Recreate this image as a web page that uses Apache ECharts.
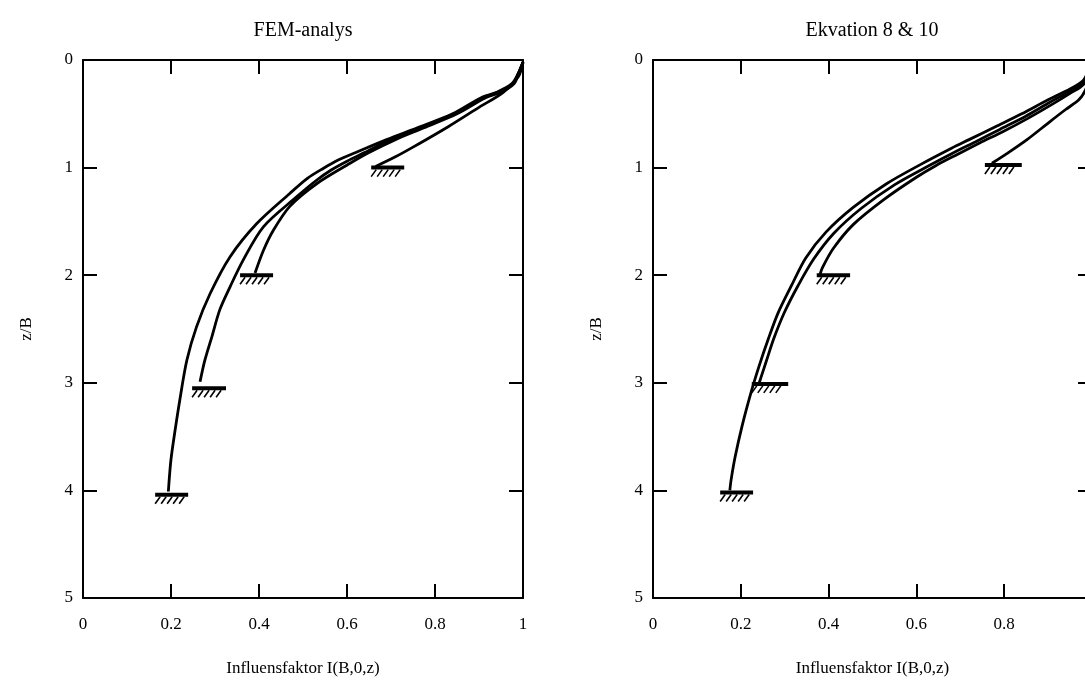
<!DOCTYPE html>
<html>
<head>
<meta charset="utf-8">
<script src="https://cdn.jsdelivr.net/npm/echarts@6/dist/echarts.min.js"></script>
<style>
  html, body { margin: 0; padding: 0; background: #fff; }
  #chart { width: 1085px; height: 693px; }
</style>
</head>
<body>
<div id="chart"></div>
<script>
// x = Influensfaktor I(B,0,z), y = z/B  — pairs are [x, z]
const xTicks = [0, 0.2, 0.4, 0.6, 0.8, 1]
const zTicks = [0, 1, 2, 3, 4, 5]

// FEM-analys
const fem1 = [[1.0, 0.02], [0.99, 0.15], [0.955, 0.30], [0.90, 0.44], [0.83, 0.62], [0.75, 0.81], [0.71, 0.90], [0.665, 0.99]]
const fem2 = [[1.0, 0.02], [0.99, 0.12], [0.98, 0.22], [0.95, 0.30], [0.915, 0.35], [0.85, 0.50], [0.775, 0.63], [0.71, 0.74], [0.65, 0.86], [0.607, 0.96], [0.531, 1.15], [0.47, 1.36], [0.433, 1.58], [0.41, 1.77], [0.391, 1.98]]
const fem3 = [[1.0, 0.02], [0.99, 0.12], [0.977, 0.22], [0.945, 0.30], [0.91, 0.35], [0.845, 0.50], [0.765, 0.63], [0.70, 0.74], [0.64, 0.86], [0.60, 0.94], [0.565, 1.02], [0.53, 1.12], [0.486, 1.27], [0.41, 1.55], [0.364, 1.86], [0.334, 2.11], [0.311, 2.32], [0.293, 2.57], [0.277, 2.79], [0.266, 2.99]]
const fem4 = [[1.0, 0.02], [0.99, 0.12], [0.975, 0.22], [0.94, 0.30], [0.905, 0.35], [0.84, 0.50], [0.76, 0.63], [0.69, 0.74], [0.62, 0.86], [0.58, 0.93], [0.545, 1.01], [0.51, 1.10], [0.47, 1.24], [0.395, 1.52], [0.334, 1.83], [0.289, 2.17], [0.258, 2.48], [0.236, 2.79], [0.22, 3.16], [0.205, 3.56], [0.199, 3.75], [0.194, 4.01]]
// supports: [xStart, xEnd, z]
const femSupports = [[0.655, 0.73, 1.0], [0.357, 0.432, 2.0], [0.248, 0.325, 3.05], [0.164, 0.239, 4.04]]

// Ekvation 8 & 10
const eq1 = [[1.0, 0.03], [0.995, 0.15], [0.985, 0.28], [0.97, 0.37], [0.94, 0.46], [0.905, 0.57], [0.852, 0.74], [0.806, 0.87], [0.772, 0.96]]
const eq2 = [[1.0, 0.03], [0.99, 0.14], [0.98, 0.23], [0.95, 0.31], [0.91, 0.41], [0.855, 0.54], [0.80, 0.66], [0.745, 0.77], [0.692, 0.88], [0.645, 0.98], [0.60, 1.09], [0.525, 1.30], [0.456, 1.53], [0.411, 1.75], [0.386, 1.93], [0.380, 2.0]]
const eq3 = [[1.0, 0.03], [0.99, 0.13], [0.98, 0.21], [0.95, 0.29], [0.905, 0.39], [0.85, 0.52], [0.79, 0.645], [0.735, 0.76], [0.69, 0.85], [0.625, 0.99], [0.55, 1.16], [0.474, 1.38], [0.412, 1.61], [0.366, 1.85], [0.33, 2.10], [0.30, 2.34], [0.276, 2.58], [0.258, 2.80], [0.246, 2.95], [0.242, 3.0]]
const eq4 = [[1.0, 0.03], [0.99, 0.12], [0.98, 0.19], [0.95, 0.27], [0.90, 0.37], [0.84, 0.50], [0.78, 0.62], [0.72, 0.74], [0.68, 0.82], [0.61, 0.97], [0.532, 1.15], [0.456, 1.37], [0.394, 1.60], [0.348, 1.84], [0.315, 2.10], [0.285, 2.35], [0.262, 2.60], [0.242, 2.84], [0.224, 3.08], [0.203, 3.40], [0.187, 3.69], [0.178, 3.90], [0.175, 4.0]]
const eqSupports = [[0.756, 0.84, 0.976], [0.373, 0.449, 2.0], [0.225, 0.308, 3.01], [0.153, 0.228, 4.02]]

const font = '"Liberation Serif", "Times New Roman", serif'
const chart = echarts.init(document.getElementById('chart'))

const xAxisPair = (gridIndex) => {
  const common = {
    gridIndex,
    type: 'value',
    min: xTicks[0],
    max: xTicks[xTicks.length - 1],
    interval: 0.2,
    axisLine: { onZero: false, lineStyle: { color: '#000', width: 2 } },
    axisTick: { inside: true, length: 14, lineStyle: { color: '#000', width: 2 } },
    splitLine: { show: false }
  }
  return [
    {
      ...common,
      position: 'bottom',
      name: 'Influensfaktor I(B,0,z)',
      nameLocation: 'middle',
      nameGap: 62,
      nameTextStyle: { fontFamily: font, fontSize: 17, color: '#000' },
      axisLabel: { fontFamily: font, fontSize: 17, color: '#000', margin: 18 }
    },
    { ...common, position: 'top', axisLabel: { show: false } }
  ]
}

const yAxisPair = (gridIndex) => {
  const common = {
    gridIndex,
    type: 'value',
    inverse: true,
    min: zTicks[0],
    max: zTicks[zTicks.length - 1],
    interval: 1,
    axisLine: { onZero: false, lineStyle: { color: '#000', width: 2 } },
    axisTick: { inside: true, length: 14, lineStyle: { color: '#000', width: 2 } },
    splitLine: { show: false }
  }
  return [
    {
      ...common,
      position: 'left',
      name: 'z/B',
      nameLocation: 'middle',
      nameRotate: 90,
      nameGap: 48,
      nameTextStyle: { fontFamily: font, fontSize: 17, color: '#000' },
      axisLabel: { fontFamily: font, fontSize: 17, color: '#000', margin: 10 }
    },
    { ...common, position: 'right', axisLabel: { show: false } }
  ]
}

const curve = (data, axisIndex) => ({
  type: 'line',
  xAxisIndex: axisIndex,
  yAxisIndex: axisIndex,
  data,
  symbol: 'none',
  smooth: 0.3,
  lineStyle: { color: '#000', width: 2.8 },
  silent: true
})

// ground symbol: thick bar with short hatches underneath
const supports = (data, axisIndex) => ({
  type: 'custom',
  xAxisIndex: axisIndex,
  yAxisIndex: axisIndex,
  data,
  encode: { x: [0, 1], y: 2 },
  silent: true,
  z: 5,
  renderItem(params, api) {
    const a = api.coord([api.value(0), api.value(2)])
    const b = api.coord([api.value(1), api.value(2)])
    const children = [{
      type: 'line',
      shape: { x1: a[0], y1: a[1], x2: b[0], y2: b[1] },
      style: { stroke: '#000', lineWidth: 4 }
    }]
    for (let i = 0; i < 5; i++) {
      const x = a[0] + 5 + i * 6
      children.push({
        type: 'line',
        shape: { x1: x, y1: a[1] + 2, x2: x - 5, y2: a[1] + 9 },
        style: { stroke: '#000', lineWidth: 1.6 }
      })
    }
    return { type: 'group', children }
  }
})

const option = {
  backgroundColor: '#fff',
  animation: false,
  title: [
    {
      text: 'FEM-analys',
      left: 303, top: 21, padding: 0, textAlign: 'center',
      textStyle: { fontFamily: font, fontSize: 20, fontWeight: 'normal', color: '#000' }
    },
    {
      text: 'Ekvation 8 & 10',
      left: 872, top: 21, padding: 0, textAlign: 'center',
      textStyle: { fontFamily: font, fontSize: 20, fontWeight: 'normal', color: '#000' }
    }
  ],
  grid: [
    { left: 83, top: 60, width: 440, height: 538, outerBoundsMode: 'none' },
    { left: 653, top: 60, width: 439, height: 538, outerBoundsMode: 'none' }
  ],
  xAxis: [...xAxisPair(0), ...xAxisPair(1)],
  yAxis: [...yAxisPair(0), ...yAxisPair(1)],
  series: [
    curve(fem1, 0), curve(fem2, 0), curve(fem3, 0), curve(fem4, 0),
    supports(femSupports, 0),
    curve(eq1, 2), curve(eq2, 2), curve(eq3, 2), curve(eq4, 2),
    supports(eqSupports, 2)
  ]
}

chart.setOption(option)
</script>
</body>
</html>
